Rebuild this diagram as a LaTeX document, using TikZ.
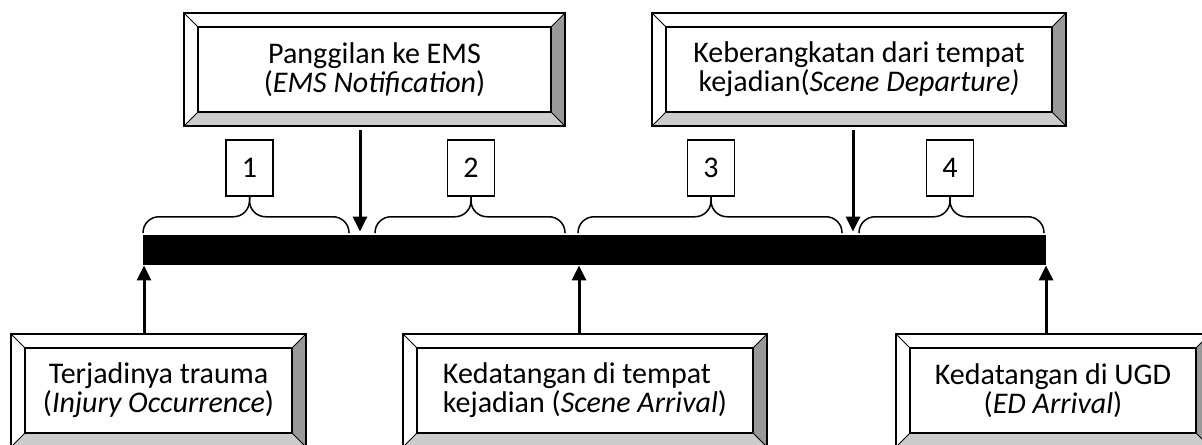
\documentclass[tikz,border=0pt]{standalone}
\usepackage{fontspec}
\setmainfont{Carlito}
\usetikzlibrary{arrows.meta}
\definecolor{bevlight}{gray}{0.80}
\definecolor{bevdark}{gray}{0.60}

\begin{document}
\begin{tikzpicture}[x=0.5pt,y=-0.5pt,
  bevel/.style = {draw, line width=0.75pt, minimum width=#1, minimum height=56.5pt,
    inner sep=0pt, align=center, font=\fontsize{15}{14.5}\selectfont,
    path picture={
      \coordinate (bsw) at (path picture bounding box.south west);
      \coordinate (bse) at (path picture bounding box.south east);
      \coordinate (bnw) at (path picture bounding box.north west);
      \coordinate (bne) at (path picture bounding box.north east);
      \fill[bevdark] (bne) -- (bse) -- ++(-7pt,7pt) -- ([shift={(-7pt,-7pt)}]bne) -- cycle;
      \fill[bevlight] (bsw) -- (bse) -- ++(-7pt,7pt) -- ([shift={(7pt,7pt)}]bsw) -- cycle;
      \draw[line width=0.5pt] (bsw) -- ++(7pt,7pt) (bnw) -- ++(7pt,-7pt)
        (bne) -- ++(-7pt,-7pt) (bse) -- ++(-7pt,7pt);
      \draw[line width=1pt] ([shift={(7pt,7pt)}]bsw) rectangle ([shift={(-7pt,-7pt)}]bne);
    }},
  numbox/.style = {draw, line width=0.75pt, minimum width=23.5pt, minimum height=28pt,
    inner sep=0pt, font=\fontsize{15}{14.5}\selectfont},
  evt/.style = {line width=1.5pt, -{Triangle[width=7pt,length=7.5pt]}},
  tbrace/.style = {line width=0.75pt, rounded corners=8pt}]
\clip (0,0) rectangle (1202,444);

% time line
\node[fill=black, minimum width=451.5pt, minimum height=15pt, inner sep=0pt] (bar) at (594.5,250) {};
\coordinate (e1) at (144,250);
\coordinate (e2) at (360,250);
\coordinate (e3) at (579,250);
\coordinate (e4) at (853,250);
\coordinate (e5) at (1046,250);

% events
\node[bevel=190.5pt] (ems) at (374.5,69.5) {Panggilan ke EMS\\(\textit{EMS Notification})};
\node[bevel=207pt] (dep) at (859,69.5) {Keberangkatan dari tempat\\kejadian(\textit{Scene Departure)}};
\node[bevel=147.5pt] (inj) at (158.5,390.5) {Terjadinya trauma\\(\textit{Injury Occurrence})};
\node[bevel=182pt, align=left] (arr) at (585,390.5) {Kedatangan di tempat\\kejadian (\textit{Scene Arrival})};
\node[bevel=157pt] (ed) at (1053,390.5) {Kedatangan di UGD\\(\textit{ED Arrival})};

\draw[evt, shorten <=1.5pt, shorten >=1.5pt] (ems.south -| e2) -- (bar.north -| e2);
\draw[evt, shorten <=1.5pt, shorten >=1.5pt] (dep.south -| e4) -- (bar.north -| e4);
\draw[evt] (inj.north -| e1) -- (bar.south -| e1);
\draw[evt] (arr.north -| e3) -- (bar.south -| e3);
\draw[evt] (ed.north -| e5) -- (bar.south -| e5);

% intervals
\node[numbox] (n1) at (249.5,168) {1};
\node[numbox] (n2) at (471,168) {2};
\node[numbox] (n3) at (711,168) {3};
\node[numbox] (n4) at (950,168) {4};

\coordinate (b1a) at (143,233);
\coordinate (b1b) at (349,233);
\coordinate (b2a) at (375,233);
\coordinate (b2b) at (565,233);
\coordinate (b3a) at (578,233);
\coordinate (b3b) at (842,233);
\coordinate (b4a) at (859,233);
\coordinate (b4b) at (1044,233);

\draw[tbrace] (n1.south) -- ++(0,20) -| (b1a);
\draw[tbrace] (n1.south) -- ++(0,20) -| (b1b);
\draw[tbrace] (n2.south) -- ++(0,20) -| (b2a);
\draw[tbrace] (n2.south) -- ++(0,20) -| (b2b);
\draw[tbrace] (n3.south) -- ++(0,20) -| (b3a);
\draw[tbrace] (n3.south) -- ++(0,20) -| (b3b);
\draw[tbrace] (n4.south) -- ++(0,20) -| (b4a);
\draw[tbrace] (n4.south) -- ++(0,20) -| (b4b);
\end{tikzpicture}
\end{document}
